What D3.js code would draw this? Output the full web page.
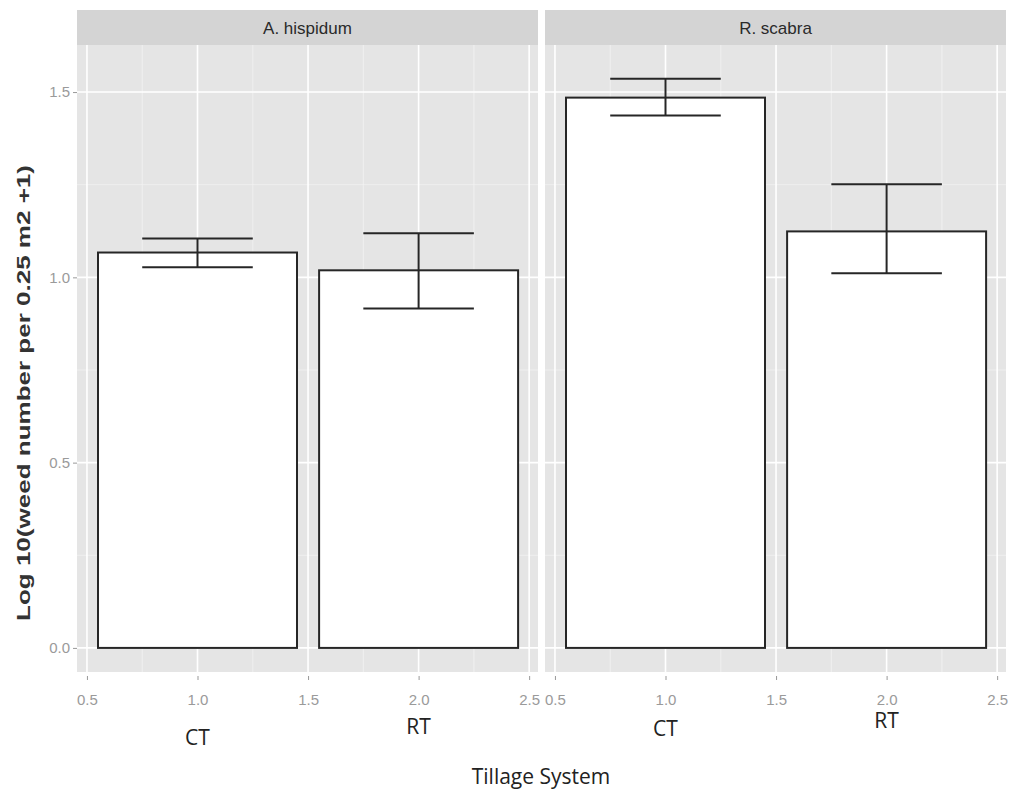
<!DOCTYPE html>
<html>
<head>
<meta charset="utf-8">
<script src="https://cdn.jsdelivr.net/npm/d3@7"></script>
<style>
  body { margin: 0; background: #fff; }
</style>
</head>
<body>
<div id="chart"></div>
<script>
// data
const species = ["A. hispidum", "R. scabra"]
const tillage = ["CT", "RT"]
const xPos = [1, 2]
const meanHisp = [1.067, 1.019]
const lowHisp = [1.027, 0.916]
const highHisp = [1.105, 1.119]
const meanScab = [1.485, 1.124]
const lowScab = [1.437, 1.011]
const highScab = [1.536, 1.251]
const xTicks = [0.5, 1.0, 1.5, 2.0, 2.5]
const xMinor = [0.75, 1.25, 1.75, 2.25]
const yTicks = [0.0, 0.5, 1.0, 1.5]
const yMinor = [0.25, 0.75, 1.25]

const W = 1013, H = 792
const PANEL = { TOP: 45, BOTTOM: 672, WIDTH: 461, GAP: 7, LEFT: 77 }
const STRIP_TOP = 10

const svg = d3.select("#chart").append("svg")
  .attr("width", W)
  .attr("height", H)

const x = d3.scaleLinear().domain([0.455, 2.54]).range([0, PANEL.WIDTH])
const y = d3.scaleLinear().domain([-0.065, 1.627]).range([PANEL.BOTTOM, PANEL.TOP])

const panelData = [
  { name: species[0], mean: meanHisp, low: lowHisp, high: highHisp },
  { name: species[1], mean: meanScab, low: lowScab, high: highScab }
]

// per-panel x label offsets (the scanned labels sit a bit unevenly)
const labelY = [[745, 734], [736, 728]]

panelData.forEach((p, i) => {
  const left = PANEL.LEFT + i * (PANEL.WIDTH + PANEL.GAP)
  const g = svg.append("g").attr("transform", `translate(${left},0)`)

  // strip
  g.append("rect")
    .attr("x", 0).attr("y", STRIP_TOP)
    .attr("width", PANEL.WIDTH).attr("height", PANEL.TOP - STRIP_TOP)
    .attr("fill", "#d4d4d4")
  g.append("text")
    .attr("x", PANEL.WIDTH / 2).attr("y", (STRIP_TOP + PANEL.TOP) / 2 + 6)
    .attr("text-anchor", "middle")
    .attr("font-family", "Liberation Sans, Arial, sans-serif")
    .attr("font-size", "17px")
    .attr("fill", "#2a2a2a")
    .text(p.name)

  // panel background
  g.append("rect")
    .attr("x", 0).attr("y", PANEL.TOP)
    .attr("width", PANEL.WIDTH).attr("height", PANEL.BOTTOM - PANEL.TOP)
    .attr("fill", "#e5e5e5")

  // grid
  g.selectAll(".xminor").data(xMinor).join("line")
    .attr("x1", d => x(d)).attr("x2", d => x(d))
    .attr("y1", PANEL.TOP).attr("y2", PANEL.BOTTOM)
    .attr("stroke", "#f2f2f2").attr("stroke-width", 0.8)
  g.selectAll(".yminor").data(yMinor).join("line")
    .attr("x1", 0).attr("x2", PANEL.WIDTH)
    .attr("y1", d => y(d)).attr("y2", d => y(d))
    .attr("stroke", "#f2f2f2").attr("stroke-width", 0.8)
  g.selectAll(".xmajor").data(xTicks).join("line")
    .attr("x1", d => x(d)).attr("x2", d => x(d))
    .attr("y1", PANEL.TOP).attr("y2", PANEL.BOTTOM)
    .attr("stroke", "#fff").attr("stroke-width", 1.6)
  g.selectAll(".ymajor").data(yTicks).join("line")
    .attr("x1", 0).attr("x2", PANEL.WIDTH)
    .attr("y1", d => y(d)).attr("y2", d => y(d))
    .attr("stroke", "#fff").attr("stroke-width", 1.6)

  // bars
  const rows = xPos.map((xp, j) => ({ x: xp, mean: p.mean[j], low: p.low[j], high: p.high[j] }))
  g.selectAll(".bar").data(rows).join("rect")
    .attr("x", d => x(d.x - 0.45))
    .attr("y", d => y(d.mean))
    .attr("width", d => x(d.x + 0.45) - x(d.x - 0.45))
    .attr("height", d => y(0) - y(d.mean))
    .attr("fill", "#fff")
    .attr("stroke", "#262626")
    .attr("stroke-width", 2)

  // error bars
  const eb = g.selectAll(".err").data(rows).join("g")
  eb.append("line")
    .attr("x1", d => x(d.x)).attr("x2", d => x(d.x))
    .attr("y1", d => y(d.low)).attr("y2", d => y(d.high))
  eb.append("line")
    .attr("x1", d => x(d.x - 0.25)).attr("x2", d => x(d.x + 0.25))
    .attr("y1", d => y(d.high)).attr("y2", d => y(d.high))
  eb.append("line")
    .attr("x1", d => x(d.x - 0.25)).attr("x2", d => x(d.x + 0.25))
    .attr("y1", d => y(d.low)).attr("y2", d => y(d.low))
  eb.selectAll("line").attr("stroke", "#262626").attr("stroke-width", 2)

  // x axis
  const xAxis = g.append("g")
    .attr("transform", `translate(0,${PANEL.BOTTOM})`)
    .call(d3.axisBottom(x).tickValues(xTicks).tickFormat(d3.format(".1f")).tickSize(4).tickPadding(18))
  xAxis.select(".domain").remove()
  xAxis.selectAll("line").attr("stroke", "#999").attr("transform", "translate(0,4)")
  xAxis.selectAll("text")
    .attr("fill", "#9a9a9a")
    .attr("font-family", "Liberation Sans, Arial, sans-serif")
    .attr("font-size", "15px")

  // category labels
  g.selectAll(".cat").data(tillage).join("text")
    .attr("x", (d, j) => x(xPos[j]))
    .attr("y", (d, j) => labelY[i][j])
    .attr("text-anchor", "middle")
    .attr("font-family", "Open Sans, sans-serif")
    .attr("font-size", "21px")
    .attr("fill", "#222")
    .text(d => d)

  // y axis on the left panel only
  if (i === 0) {
    const yAxis = g.append("g")
      .call(d3.axisLeft(y).tickValues(yTicks).tickFormat(d3.format(".1f")).tickSize(4).tickPadding(3))
    yAxis.select(".domain").remove()
    yAxis.selectAll("line").attr("stroke", "#999")
    yAxis.selectAll("text")
      .attr("fill", "#9a9a9a")
      .attr("font-family", "Liberation Sans, Arial, sans-serif")
      .attr("font-size", "15px")
  }
})

// axis titles
svg.append("text")
  .attr("transform", "translate(30,393) rotate(-90)")
  .attr("text-anchor", "middle")
  .attr("font-family", "Liberation Sans, Arial, sans-serif")
  .attr("font-weight", "bold")
  .attr("font-size", "19px")
  .attr("textLength", 456)
  .attr("lengthAdjust", "spacingAndGlyphs")
  .attr("fill", "#333")
  .text("Log 10(weed number per 0.25 m2 +1)")

svg.append("text")
  .attr("x", 541)
  .attr("y", 784)
  .attr("text-anchor", "middle")
  .attr("font-family", "Open Sans, sans-serif")
  .attr("font-size", "21px")
  .attr("fill", "#222")
  .text("Tillage System")
</script>
</body>
</html>
